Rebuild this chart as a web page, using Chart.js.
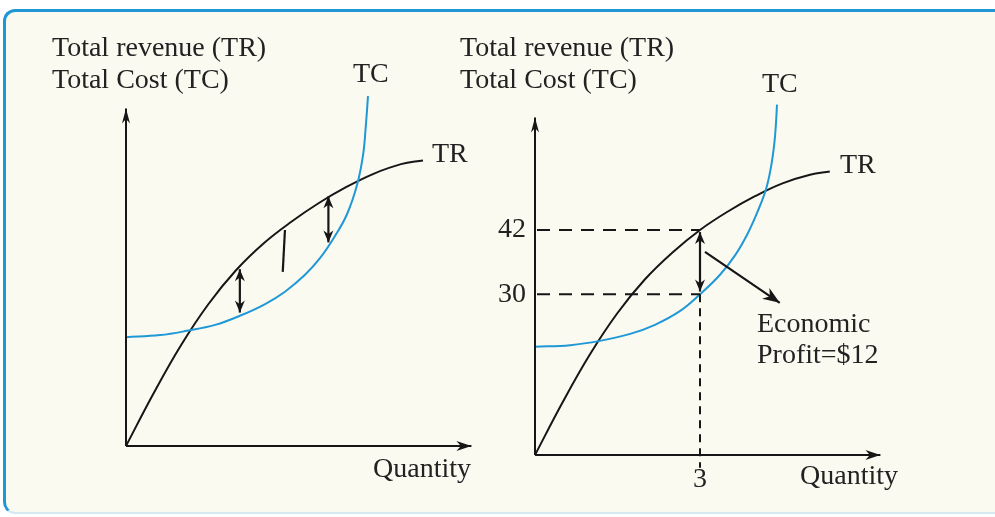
<!DOCTYPE html>
<html>
<head>
<meta charset="utf-8">
<title>TR / TC</title>
<script src="https://cdn.jsdelivr.net/npm/chart.js@4.4.1/dist/chart.umd.min.js"></script>
<style>
    html, body { margin: 0; padding: 0; background: #fff; overflow: hidden; }
    #frame {
        position: absolute; left: 3px; top: 9px; width: 1000px; height: 500px;
        border: 3px solid #1f97d5; border-right: none; border-bottom: 2px solid #d6e9f2;
        border-radius: 12px 0 0 12px; background: #fbfaf1;
    }
    .pane { position: absolute; left: 0; top: 0; width: 995px; height: 517px; }
</style>
</head>
<body>
<div id="frame"></div>
<div class="pane"><canvas id="left"></canvas></div>
<div class="pane"><canvas id="right"></canvas></div>
<script>
/* ── data (quantity on x, dollars on y) ── */

// left panel
const leftTRq = [0, 0.5, 1, 1.5, 2, 2.5, 3, 3.5, 4, 4.5, 5, 5.4];
const leftTR  = [0, 9.8, 18.8, 26.5, 32.8, 37.8, 41.8, 45.3, 48.3, 50.8, 52.6, 53.3];
const leftTCq = [0, 0.62, 1.11, 1.62, 2.07, 2.53, 2.89, 3.25, 3.53, 3.8, 4.02, 4.2, 4.31, 4.36, 4.4];
const leftTC  = [20.3, 20.7, 21.5, 22.6, 24.3, 26.5, 28.8, 31.9, 35.1, 39.2, 43.3, 48.7, 54.3, 59.7, 65.3];

// right panel
const rightTRq = [0, 0.5, 1, 1.5, 2, 2.5, 3, 3.5, 4, 4.5, 5, 5.36];
const rightTR  = [0, 9.8, 18.8, 26.5, 32.8, 37.8, 42, 45.4, 48.3, 50.7, 52.3, 52.9];
const rightTCq = [0, 0.64, 1.18, 1.73, 2.18, 2.64, 3, 3.36, 3.64, 3.87, 4.05, 4.2, 4.29, 4.35, 4.38, 4.4];
const rightTC  = [20.2, 20.5, 21.3, 22.6, 24.3, 26.9, 30, 33.6, 37.3, 41.4, 45.5, 49.6, 53.7, 58.0, 61.7, 65.4];

// tick labels
const qTicks = [3];
const priceTicks = [30, 42];
const profitQ = 3, revenueAtQ = 42, costAtQ = 30;

/* ── styles ── */
const INK = '#161616';
const TEXT = '#222';
const BLUE = '#1e98d6';
const FONT = '"Liberation Serif", "DejaVu Serif", serif';
const Q_MAX = 6.6, P_MAX = 67;       // scale ranges
const AXIS_Q = 6.28, AXIS_P = 63;    // where the axis arrows end

Chart.defaults.font.family = FONT;
Chart.defaults.font.size = 28;
Chart.defaults.color = TEXT;

const pts = (qs, ps) => qs.map((q, i) => ({ x: q, y: ps[i] }));

function curve(label, data, color) {
    return {
        label, data,
        borderColor: color, borderWidth: 2,
        pointRadius: 0, fill: false, clip: false,
        tension: 0.4,
    };
}

function head(ctx, x, y, ang, len, half) {
    ctx.save();
    ctx.translate(x, y);
    ctx.rotate(ang);
    ctx.beginPath();
    ctx.moveTo(0, 0);
    ctx.lineTo(-len, -half);
    ctx.lineTo(-len * 0.7, 0);
    ctx.lineTo(-len, half);
    ctx.closePath();
    ctx.fill();
    ctx.restore();
}

function arrow(ctx, x1, y1, x2, y2, opt = {}) {
    const len = opt.len || 12, half = opt.half || 5;
    ctx.beginPath();
    ctx.moveTo(x1, y1);
    ctx.lineTo(x2, y2);
    ctx.stroke();
    head(ctx, x2, y2, Math.atan2(y2 - y1, x2 - x1), len, half);
    if (opt.both) head(ctx, x1, y1, Math.atan2(y1 - y2, x1 - x2), len, half);
}

// axes, arrows, dashed guides and labels, placed through the chart's scales
function overlay(notes) {
    return {
        id: 'overlay',
        afterDraw(chart) {
            const { ctx } = chart;
            const X = v => chart.scales.x.getPixelForValue(v);
            const Y = v => chart.scales.y.getPixelForValue(v);
            const ox = X(0), oy = Y(0);
            ctx.save();
            ctx.strokeStyle = INK;
            ctx.fillStyle = INK;
            ctx.lineWidth = 2;
            ctx.lineCap = 'butt';

            arrow(ctx, ox, oy, X(AXIS_Q), oy, { len: 15, half: 5 });
            arrow(ctx, ox, oy, ox, Y(AXIS_P), { len: 15, half: 4 });

            if (notes.dashed) {
                ctx.setLineDash([13, 9]);
                notes.dashed.levels.forEach(p => {
                    ctx.beginPath();
                    ctx.moveTo(ox + 2, Y(p));
                    ctx.lineTo(X(notes.dashed.q), Y(p));
                    ctx.stroke();
                });
                ctx.setLineDash([8, 6]);
                ctx.beginPath();
                ctx.moveTo(X(notes.dashed.q), Y(notes.dashed.from));
                ctx.lineTo(X(notes.dashed.q), Y(notes.dashed.to));
                ctx.stroke();
                ctx.setLineDash([]);
            }

            ctx.lineWidth = 2.2;
            (notes.doubles || []).forEach(a => {
                arrow(ctx, X(a.q), Y(a.top), X(a.q), Y(a.bottom), { both: true });
            });
            (notes.strokes || []).forEach(s => {
                ctx.beginPath();
                ctx.moveTo(X(s[0]), Y(s[1]));
                ctx.lineTo(X(s[2]), Y(s[3]));
                ctx.stroke();
            });
            (notes.pointers || []).forEach(s => {
                arrow(ctx, X(s[0]), Y(s[1]), X(s[2]), Y(s[3]), { len: 17, half: 6.5 });
            });

            ctx.fillStyle = TEXT;
            ctx.font = '28px ' + FONT;
            ctx.textBaseline = 'alphabetic';
            ctx.textAlign = 'left';
            notes.labels.forEach(l => ctx.fillText(l.text, ox + l.dx, oy + l.dy));
            ctx.restore();
        },
    };
}

function scales(showTicks) {
    if (!showTicks) {
        return {
            x: { type: 'linear', min: 0, max: Q_MAX, display: false },
            y: { type: 'linear', min: 0, max: P_MAX, display: false },
        };
    }
    return {
        x: {
            type: 'linear', min: 0, max: Q_MAX,
            grid: { display: false, drawTicks: false },
            border: { display: false },
            afterBuildTicks: s => { s.ticks = qTicks.map(v => ({ value: v })); },
            ticks: { padding: 8, color: TEXT, autoSkip: false, maxRotation: 0 },
            afterFit: s => { s.height = 40; },
        },
        y: {
            type: 'linear', min: 0, max: P_MAX,
            grid: { display: false, drawTicks: false },
            border: { display: false },
            afterBuildTicks: s => { s.ticks = priceTicks.map(v => ({ value: v })); },
            ticks: { padding: 9, color: TEXT, autoSkip: false },
            afterFit: s => { s.width = 40; },
        },
    };
}

function panel(id, datasets, showTicks, padding, notes) {
    return new Chart(document.getElementById(id), {
        type: 'line',
        data: { datasets },
        options: {
            responsive: true,
            maintainAspectRatio: false,
            animation: false,
            events: [],
            layout: { padding },
            scales: scales(showTicks),
            plugins: { legend: { display: false }, tooltip: { enabled: false } },
        },
        plugins: [overlay(notes)],
    });
}

panel('left', [
    curve('TC', pts(leftTCq, leftTC), BLUE),
    curve('TR', pts(leftTRq, leftTR), INK),
], false, { left: 126, right: 506, top: 87, bottom: 71 }, {
    doubles: [{ q: 2.07, top: 33.0, bottom: 24.9 }, { q: 3.68, top: 46.6, bottom: 38.0 }],
    strokes: [[2.89, 40.3, 2.85, 32.5]],
    labels: [
        { text: 'Total revenue (TR)', dx: -74, dy: -390 },
        { text: 'Total Cost (TC)', dx: -74, dy: -358 },
        { text: 'TC', dx: 227, dy: -364 },
        { text: 'TR', dx: 306, dy: -284 },
        { text: 'Quantity', dx: 247, dy: 31 },
    ],
});

panel('right', [
    curve('TC', pts(rightTCq, rightTC), BLUE),
    curve('TR', pts(rightTRq, rightTR), INK),
], true, { left: 495, right: 97, top: 96, bottom: 22 }, {
    dashed: { levels: [revenueAtQ, costAtQ], q: profitQ, from: costAtQ, to: -2.4 },
    doubles: [{ q: profitQ, top: revenueAtQ - 0.4, bottom: costAtQ + 0.5 }],
    pointers: [[3.09, 37.9, 4.45, 28.4]],
    labels: [
        { text: 'Total revenue (TR)', dx: -75, dy: -399 },
        { text: 'Total Cost (TC)', dx: -75, dy: -367 },
        { text: 'TC', dx: 227, dy: -363 },
        { text: 'TR', dx: 305, dy: -282 },
        { text: 'Economic', dx: 222, dy: -123 },
        { text: 'Profit=$12', dx: 222, dy: -92 },
        { text: 'Quantity', dx: 265, dy: 29 },
    ],
});
</script>
</body>
</html>
